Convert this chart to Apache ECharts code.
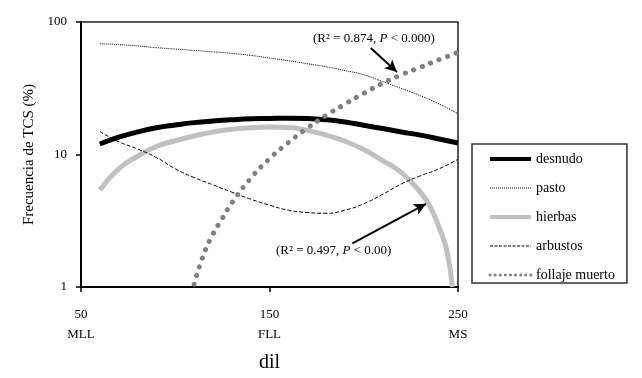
<!DOCTYPE html>
<html>
<head>
<meta charset="utf-8">
<script src="https://cdn.jsdelivr.net/npm/echarts@6/dist/echarts.min.js"></script>
<style>
html, body { margin: 0; padding: 0; background: #fff; }
#main { width: 642px; height: 378px; }
</style>
</head>
<body>
<div id="main"></div>
<script>
// valores (eje y logarítmico)
var xGrid = [60, 70, 80, 90, 100, 110, 120, 130, 140, 150, 160, 170, 180, 190, 200, 210, 220, 230, 240, 250];
var desnudo = [12.0, 13.5, 14.8, 15.9, 16.7, 17.4, 17.9, 18.3, 18.6, 18.7, 18.8, 18.7, 18.3, 17.6, 16.6, 15.7, 14.8, 14.0, 13.1, 12.2];
var pasto = [68.6, 67.5, 66, 64, 62.5, 61, 59.5, 58, 56, 53.5, 51, 48.5, 46, 43, 40, 35.5, 31.5, 27.8, 24, 20.3];
var arbustos = [14.9, 12.5, 11.0, 9.5, 7.8, 6.7, 5.9, 5.2, 4.6, 4.15, 3.8, 3.65, 3.6, 3.8, 4.25, 5.0, 6.0, 6.9, 7.8, 9.2];

var xHierbas = [60, 70, 80, 90, 100, 110, 120, 130, 140, 150, 160, 170, 180, 190, 200, 210, 220, 230, 235, 240, 244, 247];
var hierbas = [5.4, 7.8, 9.7, 11.5, 12.7, 13.8, 14.8, 15.5, 15.9, 16.1, 16.0, 15.2, 14.0, 12.6, 10.9, 9.0, 7.3, 5.2, 4.1, 2.8, 1.9, 1.0];

var xFollaje = [110, 115, 120, 125, 130, 140, 150, 160, 170, 180, 190, 200, 210, 220, 230, 240, 250];
var follaje = [1.05, 1.75, 2.5, 3.3, 4.3, 6.6, 9.3, 12.3, 15.8, 19.7, 24.0, 29, 34.5, 40, 45.5, 52, 59];

var xTicks = {50: '50\nMLL', 150: '150\nFLL', 250: '250\nMS'};
var arrowFollaje = [[203.7, 63.7], [217.6, 42.0]];
var arrowHierbas = [[194, 2.13], [233, 4.24]];

var serif = 'Liberation Serif';

function pairs(xs, ys) {
	return xs.map(function (x, i) { return [x, ys[i]]; });
}

function arrow(pts) {
	return {
		silent: true,
		symbol: ['none', 'arrow'],
		symbolSize: [9, 12],
		label: {show: false},
		lineStyle: {color: '#000', width: 2, type: 'solid'},
		data: [[{coord: pts[0]}, {coord: pts[1]}]]
	};
}

var option = {
	backgroundColor: '#fff',
	animation: false,
	textStyle: {fontFamily: serif},
	grid: {
		left: 81, right: 184, top: 22, bottom: 87,
		show: true, borderColor: '#222', borderWidth: 1.5
	},
	legend: {
		orient: 'vertical',
		left: 472, top: 144,
		padding: [8, 12, 1, 16],
		itemGap: 15,
		itemWidth: 41, itemHeight: 14,
		borderColor: '#333', borderWidth: 1.5,
		itemStyle: {opacity: 0},
		textStyle: {fontFamily: serif, fontSize: 14, color: '#000'},
		data: [
			{name: 'desnudo', lineStyle: {width: 4, color: '#000'}},
			{name: 'pasto', lineStyle: {width: 1, color: '#000', type: [1, 1]}},
			{name: 'hierbas', lineStyle: {width: 4, color: '#c0c0c0'}},
			{name: 'arbustos', lineStyle: {width: 1.2, color: '#000', type: [3, 1.5]}},
			{name: 'follaje muerto', lineStyle: {width: 3, color: '#808080', type: [0.1, 5], cap: 'round'}}
		]
	},
	xAxis: {
		type: 'value',
		min: 50, max: 250, interval: 100,
		name: 'dil',
		nameLocation: 'middle',
		nameGap: 66,
		nameTextStyle: {fontFamily: serif, fontSize: 20, color: '#000'},
		axisLine: {lineStyle: {color: '#000', width: 2}},
		axisTick: {show: true, length: 5, lineStyle: {color: '#000', width: 1.5}},
		axisLabel: {
			margin: 18,
			fontFamily: serif, fontSize: 13, color: '#000', lineHeight: 20,
			formatter: function (v) { return xTicks[v] || ''; }
		},
		splitLine: {show: false}
	},
	yAxis: {
		type: 'log',
		logBase: 10,
		min: 1, max: 100,
		name: 'Frecuencia de TCS (%)',
		nameLocation: 'middle',
		nameGap: 40,
		nameTextStyle: {fontFamily: serif, fontSize: 15, color: '#000'},
		axisLine: {show: true, lineStyle: {color: '#000', width: 2}},
		axisTick: {show: true, length: 5, lineStyle: {color: '#000', width: 1.5}},
		axisLabel: {margin: 14, fontFamily: serif, fontSize: 13, color: '#000'},
		minorTick: {show: false},
		splitLine: {show: false}
	},
	series: [
		{
			name: 'desnudo',
			type: 'line',
			smooth: true,
			symbol: 'none',
			color: '#000',
			lineStyle: {color: '#000', width: 5},
			z: 4,
			data: pairs(xGrid, desnudo)
		},
		{
			name: 'pasto',
			type: 'line',
			smooth: true,
			symbol: 'none',
			color: '#000',
			lineStyle: {color: '#000', width: 1, type: [1, 1]},
			z: 3,
			data: pairs(xGrid, pasto)
		},
		{
			name: 'hierbas',
			type: 'line',
			smooth: true,
			symbol: 'none',
			color: '#c0c0c0',
			lineStyle: {color: '#c0c0c0', width: 5},
			z: 2,
			data: pairs(xHierbas, hierbas),
			markLine: arrow(arrowHierbas)
		},
		{
			name: 'arbustos',
			type: 'line',
			smooth: true,
			symbol: 'none',
			color: '#000',
			lineStyle: {color: '#000', width: 1, type: [4, 2]},
			z: 3,
			data: pairs(xGrid, arbustos)
		},
		{
			name: 'follaje muerto',
			type: 'line',
			smooth: true,
			symbol: 'none',
			color: '#808080',
			lineStyle: {color: '#808080', width: 5, type: [0.1, 9], cap: 'round'},
			z: 5,
			data: pairs(xFollaje, follaje),
			markLine: arrow(arrowFollaje)
		}
	],
	graphic: [
		{
			type: 'text',
			left: 313, top: 32,
			style: {
				text: '(R² = 0.874, {i|P} < 0.000)',
				fontFamily: serif, fontSize: 13, fill: '#000',
				rich: {i: {fontFamily: serif, fontSize: 13, fontStyle: 'italic'}}
			}
		},
		{
			type: 'text',
			left: 276, top: 244,
			style: {
				text: '(R² = 0.497, {i|P} < 0.00)',
				fontFamily: serif, fontSize: 13, fill: '#000',
				rich: {i: {fontFamily: serif, fontSize: 13, fontStyle: 'italic'}}
			}
		}
	]
};

var myChart = echarts.init(document.getElementById('main'));
myChart.setOption(option);
</script>
</body>
</html>
